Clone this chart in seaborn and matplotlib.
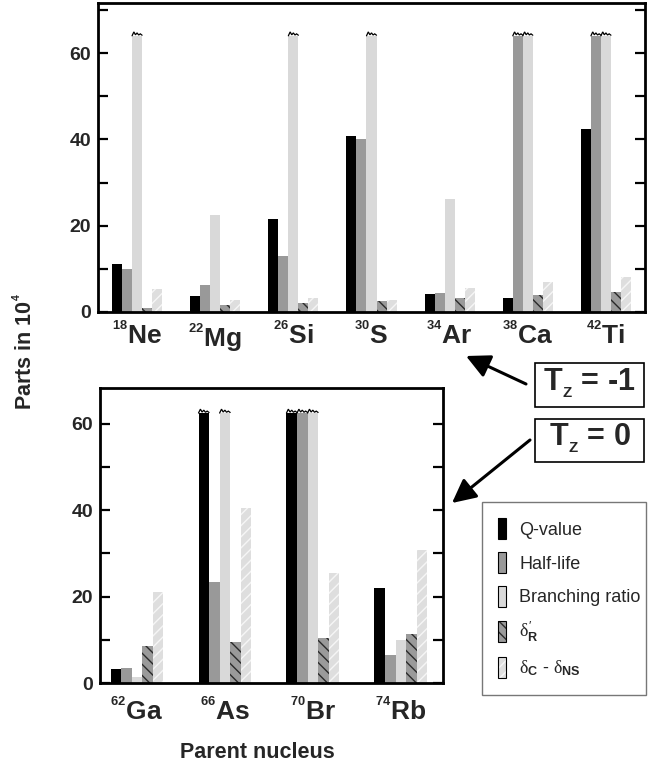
import numpy as np
import pandas as pd
import matplotlib
matplotlib.use("Agg")
import matplotlib.pyplot as plt
from matplotlib.patches import Patch, Rectangle, FancyArrowPatch
from matplotlib.legend_handler import HandlerTuple
from matplotlib.ticker import MultipleLocator
import seaborn as sns

# ---------------- data ----------------
TOP_NUCLEI = ["Ne", "Mg", "Si", "S", "Ar", "Ca", "Ti"]
TOP_MASS = ["18", "22", "26", "30", "34", "38", "42"]
BOT_NUCLEI = ["Ga", "As", "Br", "Rb"]
BOT_MASS = ["62", "66", "70", "74"]

SERIES = ["Q-value", "Half-life", "Branching ratio", "dR", "dC"]
SERIES_LABELS = ["Q-value", "Half-life", "Branching ratio",
                 r"$\delta^{\prime}_{\mathbf{R}}$",
                 r"$\delta_{\mathbf{C}}$ - $\delta_{\mathbf{NS}}$"]

# T_z = -1 (values in parts in 10^4; off-scale bars are drawn at the axis break value)
TOP_Q = [11.1, 3.7, 21.5, 40.7, 4.2, 3.2, 42.5]
TOP_HL = [10.0, 6.2, 13.0, 40.2, 4.4, 64.0, 64.0]
TOP_BR = [64.0, 22.5, 64.0, 64.0, 26.2, 64.0, 64.0]
TOP_DR = [1.0, 1.6, 2.0, 2.5, 3.2, 4.0, 4.7]
TOP_DC = [5.3, 2.8, 3.2, 2.8, 5.6, 7.0, 8.0]
TOP_BREAK = 64.0

# T_z = 0
BOT_Q = [3.2, 62.5, 62.5, 22.0]
BOT_HL = [3.5, 23.4, 62.5, 6.5]
BOT_BR = [1.4, 62.5, 62.5, 10.0]
BOT_DR = [8.6, 9.5, 10.4, 11.4]
BOT_DC = [21.1, 40.5, 25.5, 30.8]
BOT_BREAK = 62.5

# ---------------- style ----------------
FACE = ["#000000", "#999999", "#d9d9d9", "#9a9a9a", "#dedede"]
HATCH = [None, None, None, "\\\\\\", "///"]
HATCH_COLOR = [None, None, None, "#2a2a2a", "#f6f6f6"]

sns.set_theme(style="ticks")
plt.rcParams["font.family"] = ["Liberation Sans", "DejaVu Sans"]
plt.rcParams["mathtext.fontset"] = "custom"
plt.rcParams["mathtext.rm"] = "Liberation Sans"
plt.rcParams["mathtext.bf"] = "Liberation Sans:bold"
plt.rcParams["mathtext.it"] = "Liberation Serif"
plt.rcParams["hatch.linewidth"] = 1.0


def long_df(nuclei, cols):
    rows = []
    for s, vals in zip(SERIES, cols):
        for n, v in zip(nuclei, vals):
            rows.append({"nucleus": n, "series": s, "value": v})
    return pd.DataFrame(rows)


df_top = long_df(TOP_NUCLEI, [TOP_Q, TOP_HL, TOP_BR, TOP_DR, TOP_DC])
df_bot = long_df(BOT_NUCLEI, [BOT_Q, BOT_HL, BOT_BR, BOT_DR, BOT_DC])

W, H = 664, 767
fig = plt.figure(figsize=(W / 100, H / 100), dpi=100)


def fx(px):
    return px / W


def fy(py):
    return 1 - py / H


ax1 = fig.add_axes([fx(98), fy(312), fx(645) - fx(98), fy(3) - fy(312)])
ax2 = fig.add_axes([fx(100), fy(683), fx(443) - fx(100), fy(388) - fy(683)])


def draw(ax, df, nuclei, masses, width, ylim, brk):
    sns.barplot(data=df, x="nucleus", y="value", hue="series", hue_order=SERIES,
                order=nuclei, palette=FACE, saturation=1, width=width,
                linewidth=0, legend=False, ax=ax, errorbar=None)
    for i, cont in enumerate(ax.containers):
        for bar in cont:
            bar.set_linewidth(0)
            if HATCH[i]:
                bar.set_hatch(HATCH[i])
                bar.set_edgecolor(HATCH_COLOR[i])
            # axis-break zigzag on off-scale bars
            h = bar.get_height()
            if h >= brk - 1e-9:
                x0, w = bar.get_x(), bar.get_width()
                xs = x0 + w * np.array([0.0, 0.18, 0.34, 0.5, 0.66, 0.82, 1.0])
                ys = h + 0.9 * np.array([0.0, 1.0, 0.25, 0.75, 0.2, 0.5, 0.15])
                ax.plot(xs, ys, color="black", lw=0.9, clip_on=False,
                        solid_joinstyle="miter")
    ax.set_ylim(*ylim)
    ax.set_xlim(-0.5, len(nuclei) - 0.5)
    ax.set_xlabel("")
    ax.set_ylabel("")
    ax.set_xticks(range(len(nuclei)))
    ax.set_xticklabels([r"${}^{{}^{\mathbf{%s}}}$%s" % (m, n) for m, n in zip(masses, nuclei)],
                       fontsize=19, fontweight="bold")
    ax.yaxis.set_major_locator(MultipleLocator(20))
    ax.yaxis.set_minor_locator(MultipleLocator(10))
    ax.tick_params(axis="y", which="both", direction="in", length=7, width=1.6,
                   left=True, right=True, labelsize=14, pad=5, color="black")
    ax.tick_params(axis="x", length=0, pad=7)
    for lab in ax.get_yticklabels():
        lab.set_fontweight("bold")
    for sp in ax.spines.values():
        sp.set_visible(True)
        sp.set_linewidth(2)
        sp.set_color("black")


draw(ax1, df_top, TOP_NUCLEI, TOP_MASS, 0.64, (0, 71.6), TOP_BREAK)
draw(ax2, df_bot, BOT_NUCLEI, BOT_MASS, 0.60, (0, 68.3), BOT_BREAK)
ax2.set_xlim(-0.42, 3.48)
ax2.tick_params(axis="x", pad=10)

# axis titles
fig.text(fx(25), fy(352), r"Parts in 10${}^{{}^{\mathbf{4}}}$", rotation=90,
         ha="center", va="center", fontsize=15.5, fontweight="bold")
fig.text(fx(257), fy(753), "Parent nucleus", ha="center", va="center",
         fontsize=15.5, fontweight="bold")

# T_z boxes and arrows
for (y0, y1), txt in [((363, 407), r"T${}_{{}_{\mathbf{Z}}}$ = -1"),
                      ((419, 462), r"T${}_{{}_{\mathbf{Z}}}$ = 0")]:
    fig.patches.append(Rectangle((fx(535), fy(y1)), fx(644) - fx(535), fy(y0) - fy(y1),
                                 transform=fig.transFigure, fill=True, fc="white",
                                 ec="black", lw=1.2))
    fig.text(fx(589.5), fy((y0 + y1) / 2 - 2), txt, ha="center", va="center",
             fontsize=22, fontweight="bold")

arrow_kw = dict(arrowstyle="-|>,head_length=0.9,head_width=0.45", lw=2.2,
                color="black", shrinkA=0, shrinkB=0)
fig.add_artist(FancyArrowPatch(
    (fx(526), fy(384)), (fx(466), fy(356)), transform=fig.transFigure,
    mutation_scale=16, **arrow_kw))
fig.add_artist(FancyArrowPatch(
    (fx(530), fy(440)), (fx(452), fy(503)), transform=fig.transFigure,
    mutation_scale=16, **arrow_kw))

# legend
handles = []
for i in range(len(SERIES)):
    fill = Patch(facecolor=FACE[i], hatch=HATCH[i],
                 edgecolor=HATCH_COLOR[i] if HATCH[i] else FACE[i], linewidth=0)
    outline = Patch(fill=False, edgecolor="black", linewidth=0.8)
    handles.append((fill, outline))
leg = fig.legend(handles, SERIES_LABELS, loc="upper left",
                 bbox_to_anchor=(fx(482), fy(698), fx(646) - fx(482), fy(502) - fy(698)),
                 mode="expand", frameon=True, fancybox=False, fontsize=13,
                 handlelength=0.45, handleheight=1.4, handletextpad=0.7,
                 labelspacing=0.72, borderpad=0.9, borderaxespad=0,
                 handler_map={tuple: HandlerTuple(ndivide=1, pad=0)})
leg.get_frame().set_edgecolor("#555555")
leg.get_frame().set_linewidth(1.0)

fig.savefig("out.png", dpi=100)
